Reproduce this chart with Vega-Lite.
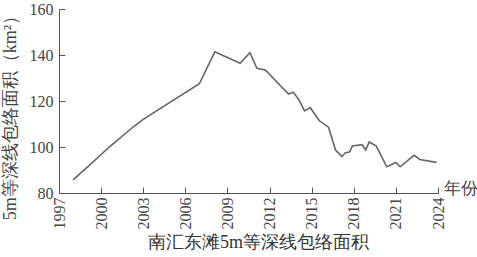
{
  "$schema": "https://vega.github.io/schema/vega-lite/v6.json",
  "width": 379,
  "height": 184,
  "autosize": {"type": "none"},
  "padding": {"left": 59, "top": 9, "right": 39, "bottom": 64},
  "background": "white",
  "config": {"view": {"stroke": null}, "font": "Liberation Serif"},
  "title": {
    "text": "南汇东滩5m等深线包络面积",
    "orient": "bottom",
    "anchor": "middle",
    "font": "Liberation Serif",
    "fontSize": 18,
    "fontWeight": "normal",
    "color": "#333",
    "offset": 5,
    "dx": 10
  },
  "data": {
    "values": [
      {"year": 1998.0, "area": 85.7},
      {"year": 1999.1, "area": 91.7},
      {"year": 2000.6, "area": 100.1},
      {"year": 2002.3, "area": 108.8},
      {"year": 2003.0, "area": 112.0},
      {"year": 2007.0, "area": 127.5},
      {"year": 2008.1, "area": 141.4},
      {"year": 2009.9, "area": 136.4},
      {"year": 2010.6, "area": 141.0},
      {"year": 2011.1, "area": 134.2},
      {"year": 2011.7, "area": 133.5},
      {"year": 2013.35, "area": 123.0},
      {"year": 2013.7, "area": 123.8},
      {"year": 2014.1, "area": 120.4},
      {"year": 2014.5, "area": 115.7},
      {"year": 2014.9, "area": 117.1},
      {"year": 2015.55, "area": 111.4},
      {"year": 2016.2, "area": 108.6},
      {"year": 2016.7, "area": 98.7},
      {"year": 2017.15, "area": 95.8},
      {"year": 2017.4, "area": 97.5},
      {"year": 2017.7, "area": 97.8},
      {"year": 2017.9, "area": 100.4},
      {"year": 2018.6, "area": 101.0},
      {"year": 2018.85, "area": 98.7},
      {"year": 2019.1, "area": 102.2},
      {"year": 2019.6, "area": 100.4},
      {"year": 2020.35, "area": 91.4},
      {"year": 2021.0, "area": 93.3},
      {"year": 2021.3, "area": 91.4},
      {"year": 2022.3, "area": 96.4},
      {"year": 2022.7, "area": 94.6},
      {"year": 2023.9, "area": 93.3}
    ]
  },
  "mark": {"type": "line", "color": "#666", "strokeWidth": 1.6},
  "encoding": {
    "x": {
      "field": "year",
      "type": "quantitative",
      "scale": {"domain": [1997, 2024], "nice": false, "zero": false},
      "axis": {
        "values": [1997, 2000, 2003, 2006, 2009, 2012, 2015, 2018, 2021, 2024],
        "format": "d",
        "labelAngle": -90,
        "labelFontSize": 16,
        "labelColor": "#444",
        "labelPadding": 10,
        "tickSize": -6,
        "tickColor": "#555",
        "domainColor": "#555",
        "grid": false,
        "title": "年份",
        "titleFontSize": 17,
        "titleFontWeight": "normal",
        "titleColor": "#444",
        "titleAngle": 0,
        "titleAlign": "left",
        "titleBaseline": "middle",
        "titleX": 384,
        "titleY": -5
      }
    },
    "y": {
      "field": "area",
      "type": "quantitative",
      "scale": {"domain": [80, 160], "nice": false, "zero": false},
      "axis": {
        "values": [80, 100, 120, 140, 160],
        "labelFontSize": 16,
        "labelColor": "#444",
        "labelPadding": 12,
        "tickSize": -6,
        "tickColor": "#555",
        "domainColor": "#555",
        "grid": false,
        "title": "5m等深线包络面积（km²）",
        "titleFontSize": 18,
        "titleFontWeight": "normal",
        "titleColor": "#444",
        "titleY": 104,
        "titlePadding": 10
      }
    }
  }
}
